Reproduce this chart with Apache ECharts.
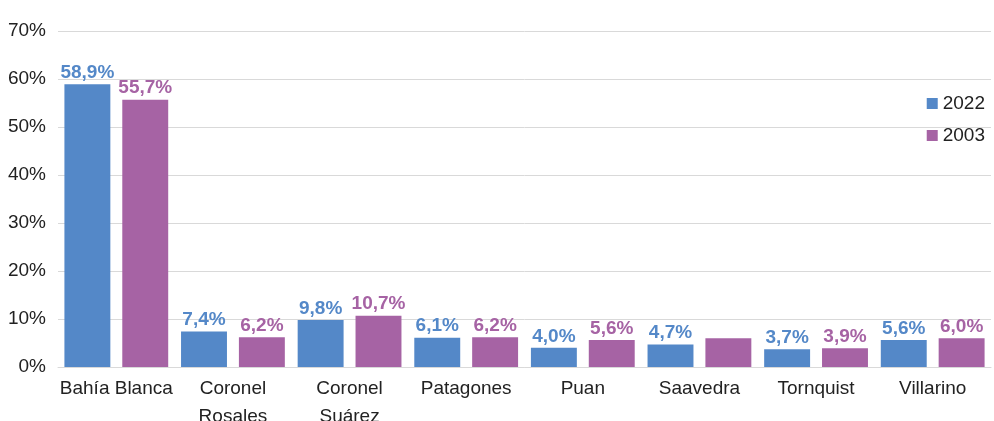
<!DOCTYPE html>
<html>
<head>
<meta charset="utf-8">
<script src="https://cdn.jsdelivr.net/npm/echarts@6/dist/echarts.min.js"></script>
<style>
  html, body { margin: 0; padding: 0; background: #fff; }
  #chart { width: 994px; height: 421px; }
</style>
</head>
<body>
<div id="chart"></div>
<script>
const categories = ['Bahía Blanca', 'Coronel\nRosales', 'Coronel\nSuárez', 'Patagones', 'Puan', 'Saavedra', 'Tornquist', 'Villarino']
const values2022 = [58.9, 7.4, 9.8, 6.1, 4.0, 4.7, 3.7, 5.6]
const values2003 = [55.7, 6.2, 10.7, 6.2, 5.6, 6.0, 3.9, 6.0]
const showLabel2003 = [true, true, true, true, true, false, true, true]

const font = '"Liberation Sans Narrow", "Liberation Sans", sans-serif'
const blue = '#5488c8'
const purple = '#a663a4'

const chart = echarts.init(document.getElementById('chart'))

function fmt(v) {
  return v.toFixed(1).replace('.', ',') + '%'
}

chart.setOption({
  animation: false,
  textStyle: { fontFamily: font },
  grid: { left: 58, right: 3, top: 31, bottom: 54, containLabel: false, outerBoundsMode: 'none' },
  legend: {
    orient: 'vertical',
    right: 4,
    top: 89,
    itemWidth: 11,
    itemHeight: 11,
    itemGap: 13,
    icon: 'rect',
    textStyle: { fontSize: 19, color: '#222', fontFamily: font },
    data: ['2022', '2003']
  },
  xAxis: {
    type: 'category',
    data: categories,
    axisTick: { show: false },
    axisLine: { lineStyle: { color: '#d9d9d9', width: 1 } },
    axisLabel: { fontSize: 19, color: '#222', margin: 8, lineHeight: 28, fontFamily: font, interval: 0 }
  },
  yAxis: {
    type: 'value',
    min: 0,
    max: 70,
    interval: 10,
    axisLine: { show: false },
    axisTick: { show: false },
    splitLine: { lineStyle: { color: '#d9d9d9', width: 1 } },
    axisLabel: { fontSize: 19, color: '#222', margin: 12, formatter: '{value}%', fontFamily: font }
  },
  series: [
    {
      name: '2022',
      type: 'bar',
      data: values2022,
      barGap: '26%',
      barCategoryGap: '11%',
      itemStyle: { color: blue },
      label: {
        show: true,
        position: 'top',
        distance: 2,
        color: blue,
        fontWeight: 'bold',
        fontSize: 19,
        fontFamily: font,
        formatter: p => fmt(p.value)
      }
    },
    {
      name: '2003',
      type: 'bar',
      data: values2003.map((v, i) => ({
        value: v,
        label: { show: showLabel2003[i] }
      })),
      itemStyle: { color: purple },
      label: {
        show: true,
        position: 'top',
        distance: 2,
        color: purple,
        fontWeight: 'bold',
        fontSize: 19,
        fontFamily: font,
        formatter: p => fmt(p.value)
      }
    }
  ]
})
</script>
</body>
</html>
